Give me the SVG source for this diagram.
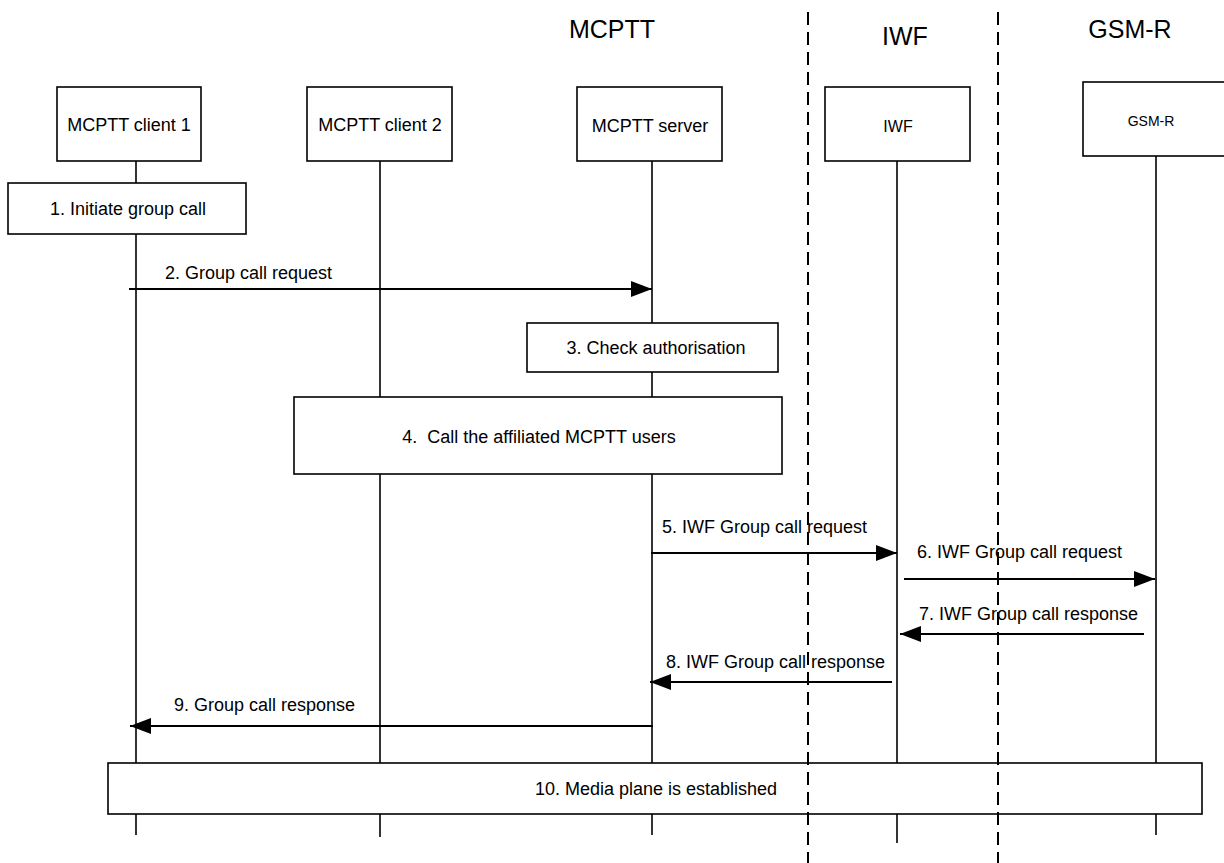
<svg xmlns="http://www.w3.org/2000/svg" width="1224" height="863" viewBox="0 0 1224 863">
<style>
text{font-family:"Liberation Sans",Arial,sans-serif;fill:#000}
.hdr{font-size:25px;text-anchor:middle}
.lbl{font-size:18px}
.mid{text-anchor:middle}
.box{fill:#fff;stroke:#000;stroke-width:1.6}
.life{stroke:#000;stroke-width:1.6;fill:none}
.msg{stroke:#000;stroke-width:2;fill:none;marker-end:url(#ah)}
.dash{stroke:#000;stroke-width:2;stroke-dasharray:13 7;fill:none}
</style>
<defs>
<marker id="ah" markerUnits="userSpaceOnUse" markerWidth="22" markerHeight="16" refX="21" refY="8" orient="auto">
<path d="M0,0 L21,8 L0,16 z" fill="#000"/>
</marker>
</defs>
<g id="headers">
<text class="hdr" x="612" y="38">MCPTT</text>
<text class="hdr" x="905" y="45">IWF</text>
<text class="hdr" x="1130" y="38">GSM-R</text>
</g>
<g id="lifelines">
<line class="life" x1="136" y1="161" x2="136" y2="835"/>
<line class="life" x1="380" y1="161" x2="380" y2="837"/>
<line class="life" x1="652" y1="161" x2="652" y2="835"/>
<line class="life" x1="897" y1="161" x2="897" y2="843"/>
<line class="life" x1="1156" y1="156" x2="1156" y2="835"/>
</g>
<g id="client1">
<rect class="box" x="57" y="87" width="144" height="74"/>
<text class="lbl mid" x="129" y="131">MCPTT client 1</text>
</g>
<g id="client2">
<rect class="box" x="307" y="87" width="145" height="74"/>
<text class="lbl mid" x="380" y="131">MCPTT client 2</text>
</g>
<g id="server">
<rect class="box" x="577" y="87" width="145" height="74"/>
<text class="lbl mid" x="650" y="132">MCPTT server</text>
</g>
<g id="iwf">
<rect class="box" x="825" y="87" width="145" height="74"/>
<text class="mid" style="font-size:16px" x="898" y="132">IWF</text>
</g>
<g id="gsmr">
<rect class="box" x="1083" y="82" width="150" height="74"/>
<text class="mid" style="font-size:14px" x="1151" y="126">GSM-R</text>
</g>
<g id="step1">
<rect class="box" x="8" y="183" width="238" height="51"/>
<text class="lbl mid" x="128" y="215">1. Initiate group call</text>
</g>
<g id="step3">
<rect class="box" x="527" y="323" width="251" height="49"/>
<text class="lbl mid" x="656" y="354">3. Check authorisation</text>
</g>
<g id="step4">
<rect class="box" x="294" y="397" width="488" height="77"/>
<text class="lbl mid" x="539" y="443">4.&#160; Call the affiliated MCPTT users</text>
</g>
<g id="step10">
<rect class="box" x="108" y="763" width="1094" height="51"/>
<text class="lbl mid" x="656" y="795">10. Media plane is established</text>
</g>
<g id="connectors">
<line class="msg" x1="129" y1="289" x2="652" y2="289"/>
<text class="lbl" x="165" y="279">2. Group call request</text>
<line class="msg" x1="651" y1="553" x2="897" y2="553"/>
<text class="lbl" x="662" y="533">5. IWF Group call request</text>
<line class="msg" x1="904" y1="579" x2="1155" y2="579"/>
<text class="lbl" x="917" y="558">6. IWF Group call request</text>
<line class="msg" x1="1144" y1="634" x2="900" y2="634"/>
<text class="lbl" x="919" y="620">7. IWF Group call response</text>
<line class="msg" x1="892" y1="682" x2="650" y2="682"/>
<text class="lbl" x="666" y="668">8. IWF Group call response</text>
<line class="msg" x1="653" y1="726" x2="130" y2="726"/>
<text class="lbl" x="174" y="711">9. Group call response</text>
</g>
<g id="domains">
<line class="dash" x1="808" y1="12" x2="808" y2="863"/>
<line class="dash" x1="998" y1="12" x2="998" y2="863"/>
</g>
</svg>
